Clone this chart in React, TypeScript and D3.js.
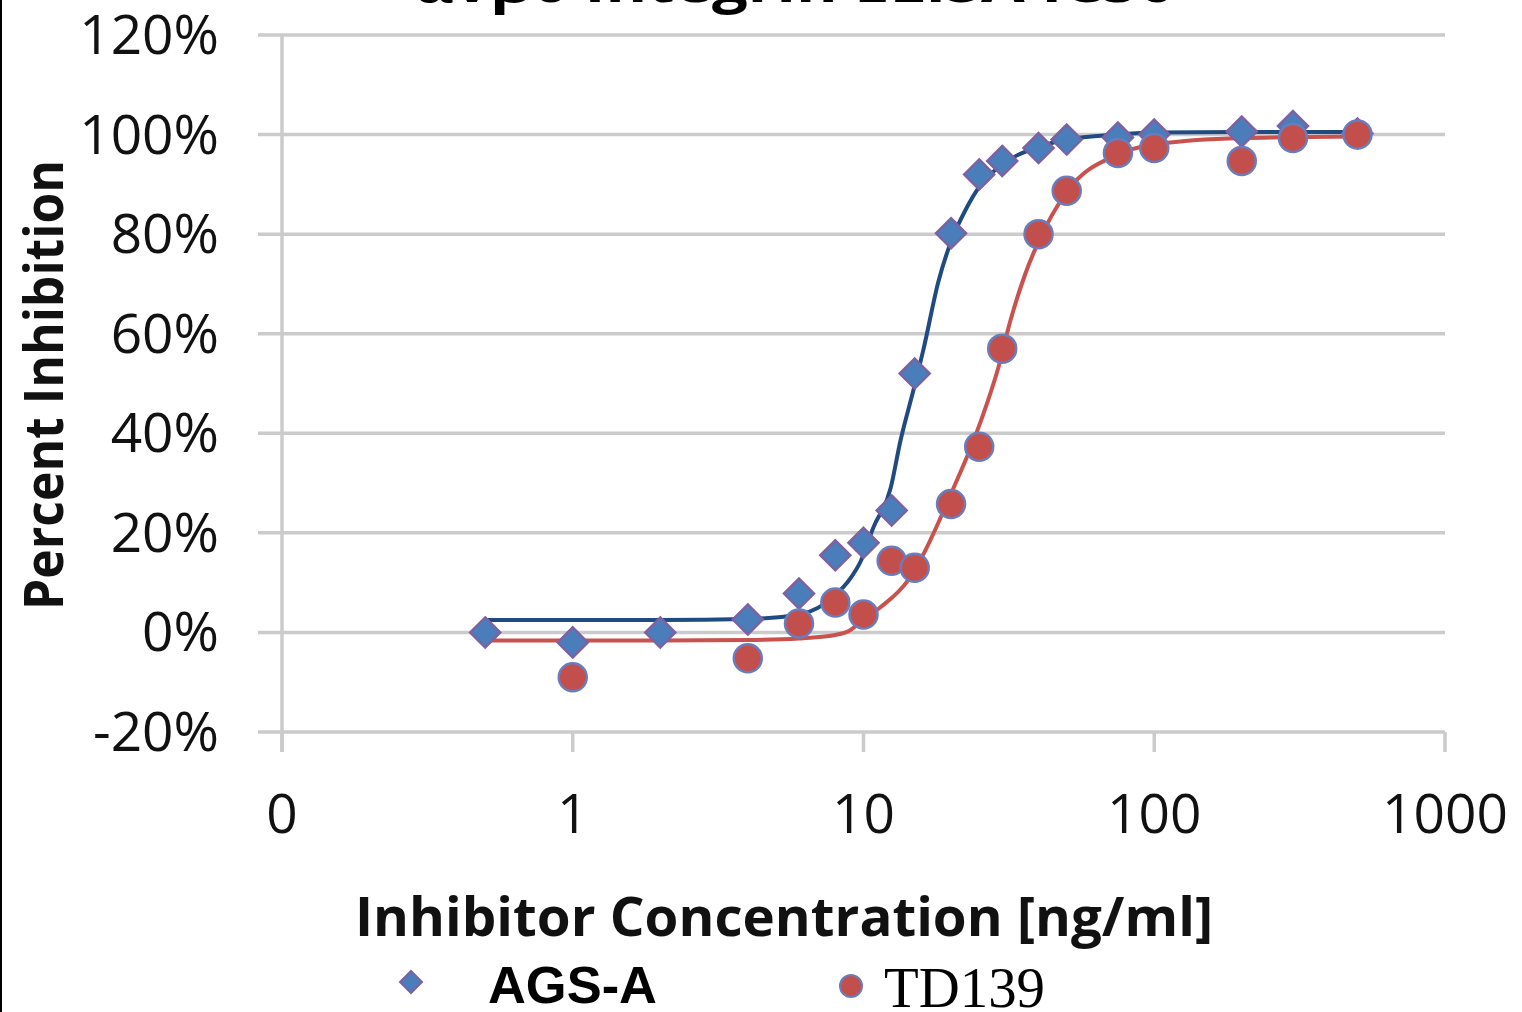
import React from "react";
import * as d3 from "d3";

// Chart text
const TITLE = "αvβ6 Integrin ELISA IC50";
const X_TITLE = "Inhibitor Concentration [ng/ml]";
const Y_TITLE = "Percent Inhibition";
const SERIES_NAMES = ["AGS-A", "TD139"];

// Axis ticks
const X_TICKS = [0.1, 1, 10, 100, 1000];
const X_TICK_LABELS = ["0", "1", "10", "100", "1000"];
const Y_TICKS = [-20, 0, 20, 40, 60, 80, 100, 120];

// Measured points (concentration in ng/ml, inhibition in %)
const AGS_CONC = [0.5, 1, 2, 4, 6, 8, 10, 12.5, 15, 20, 25, 30, 40, 50, 75, 100, 200, 300, 500];
const AGS_INHIB = [0, -2, 0, 2.6, 7.8, 15.5, 18, 24.5, 52, 80.2, 92, 94.7, 97.3, 99, 99.4, 100, 100.6, 101.7, 100.2];

const TD_CONC = [1, 4, 6, 8, 10, 12.5, 15, 20, 25, 30, 40, 50, 75, 100, 200, 300, 500];
const TD_INHIB = [-9, -5.2, 1.8, 6, 3.6, 14.4, 13, 25.8, 37.3, 57, 80, 88.7, 96.3, 97.3, 94.7, 99.3, 100];

// Fitted dose–response curves
const AGS_FIT_CONC = [0.5, 2, 4, 6, 8, 9, 9.8, 10.8, 12.4, 13.4, 14.9, 16.1, 18.1, 20, 22.5, 25, 30, 40, 50, 75, 100, 200, 500];
const AGS_FIT_INHIB = [2.5, 2.5, 2.7, 3.6, 7.5, 10.8, 14.4, 21, 29, 38.5, 49, 57, 70.5, 78.5, 85, 89.5, 94, 97.5, 99, 100, 100.4, 100.5, 100.5];

const TD_FIT_CONC = [0.5, 2, 4, 6, 8, 8.9, 10, 11.4, 14.2, 16.1, 18.4, 20.4, 23.9, 26.6, 28.9, 32, 36, 40, 50, 75, 100, 200, 500];
const TD_FIT_INHIB = [-1.6, -1.6, -1.5, -1.2, -0.5, 0.3, 2.6, 5, 10.4, 15.8, 23, 29, 38.5, 46, 52.6, 62.6, 72, 78.5, 88.5, 96, 98, 99.3, 99.6];

const BLUE_FILL = "#4a7ebb";
const BLUE_EDGE = "#7b62a3";
const BLUE_LINE = "#1f4a82";
const RED_FILL = "#c24f4b";
const RED_EDGE = "#6a7cbc";
const RED_LINE = "#c9524e";
const GRID = "#cbcbcb";
const SANS = "'Open Sans', 'Noto Sans', sans-serif";

const diamond = (r: number) => `M0,${-r}L${r},0L0,${r}L${-r},0Z`;

export default function App() {
  const W = 1522;
  const H = 1012;
  const x = d3.scaleLog().domain([0.1, 1000]).range([282, 1445]);
  const y = d3.scaleLinear().domain([-20, 120]).range([732, 35]);

  const line = d3
    .line<[number, number]>()
    .x((d) => x(d[0]))
    .y((d) => y(d[1]))
    .curve(d3.curveMonotoneX);

  const agsFit = line(AGS_FIT_CONC.map((c, i) => [c, AGS_FIT_INHIB[i]] as [number, number])) ?? "";
  const tdFit = line(TD_FIT_CONC.map((c, i) => [c, TD_FIT_INHIB[i]] as [number, number])) ?? "";

  const xLeft = 258;
  const xRight = x(1000);
  const yBottom = y(-20);

  return (
    <svg
      width={W}
      height={H}
      viewBox={`0 0 ${W} ${H}`}
      style={{ position: "absolute", left: 0, top: 0, display: "block", background: "#fff" }}
    >
      <rect x={0} y={0} width={W} height={H} fill="#fff" />
      <line x1={1} x2={1} y1={0} y2={H} stroke="#000" strokeWidth={2} />

      {/* title, mostly above the visible area */}
      <text x={794} y={2} textAnchor="middle" fontFamily={SANS} fontWeight={700} fontSize={54} textLength={762} lengthAdjust="spacingAndGlyphs" fill="#000">
        {TITLE}
      </text>

      {/* horizontal gridlines */}
      {Y_TICKS.map((t) => (
        <line key={`g${t}`} x1={xLeft} x2={xRight} y1={y(t)} y2={y(t)} stroke={GRID} strokeWidth={3.5} />
      ))}
      {/* vertical axis */}
      <line x1={x(0.1)} x2={x(0.1)} y1={y(120)} y2={yBottom + 20} stroke={GRID} strokeWidth={3.5} />
      {/* x ticks */}
      {X_TICKS.map((t) => (
        <line key={`xt${t}`} x1={x(t)} x2={x(t)} y1={yBottom} y2={yBottom + 20} stroke={GRID} strokeWidth={3.5} />
      ))}

      {/* y tick labels */}
      {Y_TICKS.map((t) => (
        <text key={`yl${t}`} x={219} y={y(t) + 19} textAnchor="end" fontFamily={SANS} fontSize={55} fill="#111">
          {`${t}%`}
        </text>
      ))}
      {/* x tick labels */}
      {X_TICKS.map((t, i) => (
        <text key={`xl${t}`} x={x(t)} y={833} textAnchor="middle" fontFamily={SANS} fontSize={55} fill="#111">
          {X_TICK_LABELS[i]}
        </text>
      ))}

      {/* axis titles */}
      <text x={784} y={936} textAnchor="middle" fontFamily={SANS} fontWeight={700} fontSize={54} textLength={858} lengthAdjust="spacingAndGlyphs" fill="#111">
        {X_TITLE}
      </text>
      <text
        transform={`translate(63,385) rotate(-90)`}
        textAnchor="middle"
        fontFamily={SANS}
        fontWeight={700}
        fontSize={54}
        textLength={450}
        lengthAdjust="spacingAndGlyphs"
        fill="#111"
      >
        {Y_TITLE}
      </text>

      {/* fitted curves */}
      <path d={agsFit} fill="none" stroke={BLUE_LINE} strokeWidth={4} />
      <path d={tdFit} fill="none" stroke={RED_LINE} strokeWidth={4} />

      {/* AGS-A points */}
      {AGS_CONC.map((c, i) => (
        <path
          key={`a${i}`}
          d={diamond(15)}
          transform={`translate(${x(c)},${y(AGS_INHIB[i])})`}
          fill={BLUE_FILL}
          stroke={BLUE_EDGE}
          strokeWidth={2.5}
        />
      ))}
      {/* TD139 points */}
      {TD_CONC.map((c, i) => (
        <circle key={`t${i}`} cx={x(c)} cy={y(TD_INHIB[i])} r={14} fill={RED_FILL} stroke={RED_EDGE} strokeWidth={2.5} />
      ))}

      {/* legend */}
      <path d={diamond(11)} transform="translate(411,982)" fill={BLUE_FILL} stroke={BLUE_EDGE} strokeWidth={2} />
      <text x={488} y={1003} fontFamily="'Liberation Sans', Arial, sans-serif" fontWeight={700} fontSize={52} textLength={169} lengthAdjust="spacingAndGlyphs" fill="#000">
        {SERIES_NAMES[0]}
      </text>
      <circle cx={851} cy={986} r={11} fill={RED_FILL} stroke={RED_EDGE} strokeWidth={2} />
      <text x={884} y={1007} fontFamily="'Liberation Serif', 'Times New Roman', serif" fontSize={57} textLength={161} lengthAdjust="spacingAndGlyphs" fill="#000">
        {SERIES_NAMES[1]}
      </text>
    </svg>
  );
}
